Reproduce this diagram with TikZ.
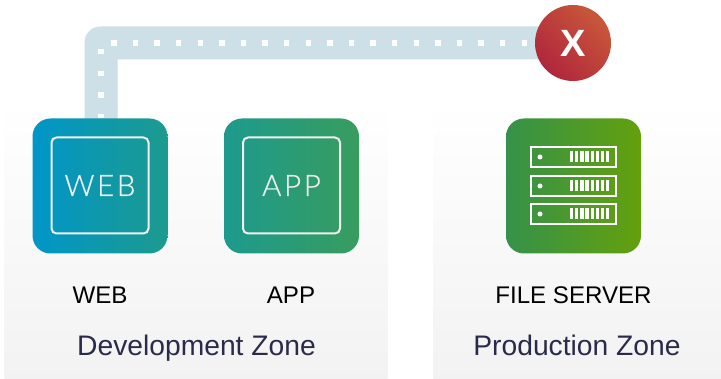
\documentclass[tikz,border=0pt]{standalone}
\usepackage{fontspec}
\setmainfont{Liberation Sans}
\newfontfamily\thinfont[LetterSpace=9,FakeBold=0.5]{Lato Light}
\newfontfamily\boldfont{Liberation Sans Bold}
\usetikzlibrary{backgrounds}
\definecolor{pipe}{HTML}{CDDFE7}
\definecolor{zonetxt}{HTML}{2A2B4A}
\definecolor{innerline}{HTML}{F0F0F0}
\definecolor{webL}{HTML}{0096C8}
\definecolor{webR}{HTML}{1D9A8E}
\definecolor{appL}{HTML}{1D9A8E}
\definecolor{appR}{HTML}{389C5E}
\definecolor{fileL}{HTML}{35924A}
\definecolor{fileR}{HTML}{64A00C}
\definecolor{failA}{HTML}{B0263C}
\definecolor{failB}{HTML}{C8583A}
\tikzset{
  zone/.style={minimum width=#1,minimum height=279pt,inner sep=0pt,anchor=north west,top color=white,bottom color=black!5},
  tile/.style={minimum width=135pt,minimum height=135pt,inner sep=0pt,rounded corners=18pt},
  innerbox/.style={draw=innerline,line width=2pt,rounded corners=5pt,minimum width=97pt,minimum height=96pt,inner sep=0pt,text=innerline,font=\thinfont\fontsize{29.5}{29.5}\selectfont},
  itemlabel/.style={anchor=base,font=\fontsize{24.1}{26}\selectfont,text=black,inner sep=0pt},
  zonelabel/.style={anchor=base,font=\fontsize{28.25}{32}\selectfont,text=zonetxt,inner sep=0pt},
  rack/.style={draw=white,line width=2pt,minimum width=85pt,minimum height=20pt,inner sep=0pt},
  rackdot/.style={circle,fill=white,minimum size=5pt,inner sep=0pt},
  rackbar/.style={fill=white,minimum width=3.2pt,minimum height=11pt,inner sep=0pt},
  failmark/.style={circle,minimum size=76pt,inner sep=0pt,left color=failA,right color=failB,shading angle=135,text=white,font=\boldfont\fontsize{38}{38}\selectfont},
}
\begin{document}
\begin{tikzpicture}[x=1pt,y=-1pt]
\useasboundingbox (0,0) rectangle (721,379);
% tiles
\node[tile,left color=webL,right color=webR] (web) at (100,186) {};
\node[tile,left color=appL,right color=appR] (app) at (291.5,186) {};
\node[tile,left color=fileL,right color=fileR] (file) at (573.5,186) {};
\node[innerbox] (webbox) at (100,185.5) {WEB};
\node[innerbox] (appbox) at (291.5,185.5) {APP};
% racks
\foreach \n/\y in {a/157,b/186,c/214}{
  \node[rack] (rack\n) at (573.5,\y) {};
  \node[rackdot] (dot\n) at (540,\y) {};
  \foreach \k in {0,...,7}{
    \node[rackbar] (bar\n\k) at ({571.7+5.12*\k},\y) {};
  }
}
\node[failmark] (fail) at (573,43) {X};
% labels
\node[itemlabel] (lweb) at (100,304) {WEB};
\node[itemlabel] (lapp) at (291,304) {APP};
\node[itemlabel] (lfile) at (573.5,304) {FILE SERVER};
\node[zonelabel] (ldev) at (196.5,356) {Development Zone};
\node[zonelabel] (lprod) at (577,356) {Production Zone};
% background
\begin{scope}[on background layer]
  \node[zone=383pt] (devzone) at (4.5,100) {};
  \node[zone=288pt] (prodzone) at (433,100) {};
  \coordinate (corner) at ([xshift=1pt]web.north |- fail);
  \coordinate (foot) at ([xshift=1pt,yshift=-3pt]web.north);
  \fill[pipe,rounded corners=16pt] ([xshift=-16.5pt]foot) -- ([xshift=-16.5pt,yshift=16.5pt]corner) [sharp corners] -- ([yshift=16.5pt]fail.center) -- ([yshift=-16.5pt]fail.center) -- ([xshift=16.5pt,yshift=-16.5pt]corner) -- ([xshift=16.5pt]foot) -- cycle;
  \draw[white,line width=5.5pt,dash pattern=on 5.5pt off 16.1pt,dash phase=1pt] ([yshift=3pt]foot) -- (corner) -- (fail.center);
\end{scope}
\end{tikzpicture}
\end{document}
